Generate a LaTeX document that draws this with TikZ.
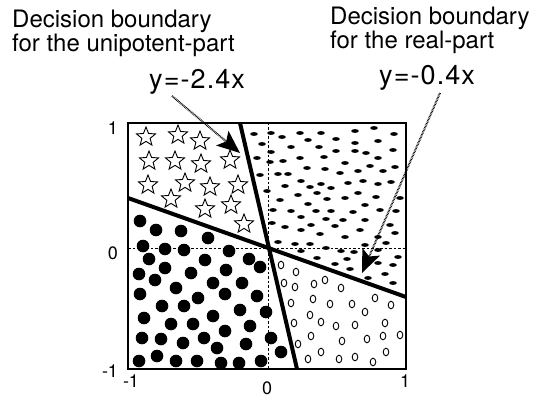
\documentclass[tikz,border=0pt]{standalone}
\usepackage{fontspec}
\setmainfont{TeX Gyre Heros}
\newfontfamily\eqfont[LetterSpace=4]{TeX Gyre Heros}
\usetikzlibrary{shapes.geometric,arrows.meta}
\tikzset{
  lbl/.style={anchor=base west,inner sep=0,font=\fontsize{24}{28}\selectfont},
  eqlbl/.style={anchor=base west,inner sep=0,font=\eqfont\fontsize{27}{30}\selectfont},
  tick/.style={inner sep=0,font=\fontsize{18}{20}\selectfont},
  starmark/.style={star,star points=5,star point ratio=2.3,minimum size=20pt,inner sep=0,draw=black,fill=white,line width=0.9pt},
  boundary/.style={line width=4pt},
  pointer/.style={line width=2pt,dash pattern=on 0.7pt off 0.8pt,-{Stealth[length=23pt,width=19pt,inset=5pt,sep=0pt]}},
  axisdash/.style={line width=0.8pt,dash pattern=on 2.5pt off 2pt},
}
\begin{document}
\begin{tikzpicture}[x=1pt,y=-1pt]
\useasboundingbox (0,0) rectangle (545,398);
% labels
\node[lbl] (t1) at (12,28) {Decision boundary};
\node[lbl] (t2) at (12,52) {for the unipotent-part};
\node[eqlbl] (e1) at (149,89) {y=-2.4x};
\node[lbl] (t3) at (330,25) {Decision boundary};
\node[lbl] (t4) at (330,49) {for the real-part};
\node[eqlbl] (e2) at (379,85) {y=-0.4x};
% ticks
\node[tick] (ly1) at (113,128) {1};
\node[tick] (ly0) at (113,253) {0};
\node[tick] (lym) at (110,371) {-1};
\node[tick] (lxm) at (131,381) {-1};
\node[tick] (lx0) at (267,388) {0};
\node[tick] (lx1) at (405,381) {1};
% stars
\foreach \x/\y in {146/137,178/135,200/141,149/161,175/161,201/164,230/160,148/185,185/183,210/187,238/185,171/199,205/209,231/205,244/224}
  \node[starmark] at (\x,\y) {};
% filled circles
\foreach \x/\y in {140/221,156/230,181/231,208/238,143/246,165/249,184/250,229/251,149/259,205/260,249/259,260/267,165/268,226/270,139/274,191/273,155/280,213/283,242/283,176/288,140/294,225/294,198/298,257/296,162/306,184/306,240/310,266/312,144/318,213/316,171/324,193/324,250/326,225/331,142/338,161/339,204/338,271/338,183/343,246/344,217/348,157/356,281/352,139/361,176/361,197/361,261/361,221/363,239/363}
  \fill (\x,\y) circle[radius=6.3pt];
% open circles
\foreach \x/\y in {281/265,296/272,284/283,295/287,314/284,325/280,341/288,291/303,313/299,330/304,352/304,375/298,391/305,310/315,365/312,294/323,321/322,336/326,355/325,385/323,311/336,342/341,367/339,383/336,400/335,298/344,321/352,386/352,308/359,339/359,355/357,373/362}
  \draw[line width=0.9pt] (\x,\y) circle[x radius=2.8pt,y radius=3.8pt];
% dashes
\foreach \x/\y in {254/134,262/144,257/158,260/175,267/191,
 271/133,282/137,300/133,321/133,336/139,355/131,374/128,394/134,
 308/140,355/143,378/141,
 271/152,291/147,319/147,336/151,355/151,366/153,393/150,
 270/162,283/161,300/158,324/157,345/163,378/158,
 307/168,325/169,340/173,358/171,370/166,383/171,395/167,
 278/174,288/174,301/181,321/184,348/183,363/181,378/184,391/182,
 285/186,310/187,331/188,
 298/195,317/193,345/198,358/193,376/197,400/198,
 280/200,308/204,327/199,365/205,
 273/210,291/211,316/211,331/211,353/212,380/210,396/211,
 301/217,326/219,343/220,365/220,
 272/223,285/227,301/230,311/225,320/234,335/226,360/230,390/225,395/233,
 278/242,295/244,310/244,345/237,365/245,378/237,386/243,
 301/251,326/248,341/251,354/252,378/250,
 317/258,347/259,398/257,335/264,378/263,393/265,350/269,368/278,385/274,393/283}
  \fill (\x,\y) circle[x radius=3.8pt,y radius=1.9pt];
% axes
\draw[axisdash] (128,248) -- (406,248);
\draw[axisdash] (268,123) -- (268,369);
\draw[line width=1.3pt] (128,123) rectangle (406,369);
% boundaries
\coordinate (b1a) at (240,123);
\coordinate (b1b) at (297,369);
\coordinate (b2a) at (128,198);
\coordinate (b2b) at (406,297);
\draw[boundary] (b1a) -- (b1b);
\draw[boundary] (b2a) -- (b2b);
% pointers
\coordinate (p1s) at (172,96);
\coordinate (p1e) at (240,153);
\coordinate (p2s) at (440,93);
\coordinate (p2e) at (362,273);
\draw[pointer] (p1s) -- (p1e);
\draw[pointer] (p2s) -- (p2e);
\end{tikzpicture}
\end{document}
